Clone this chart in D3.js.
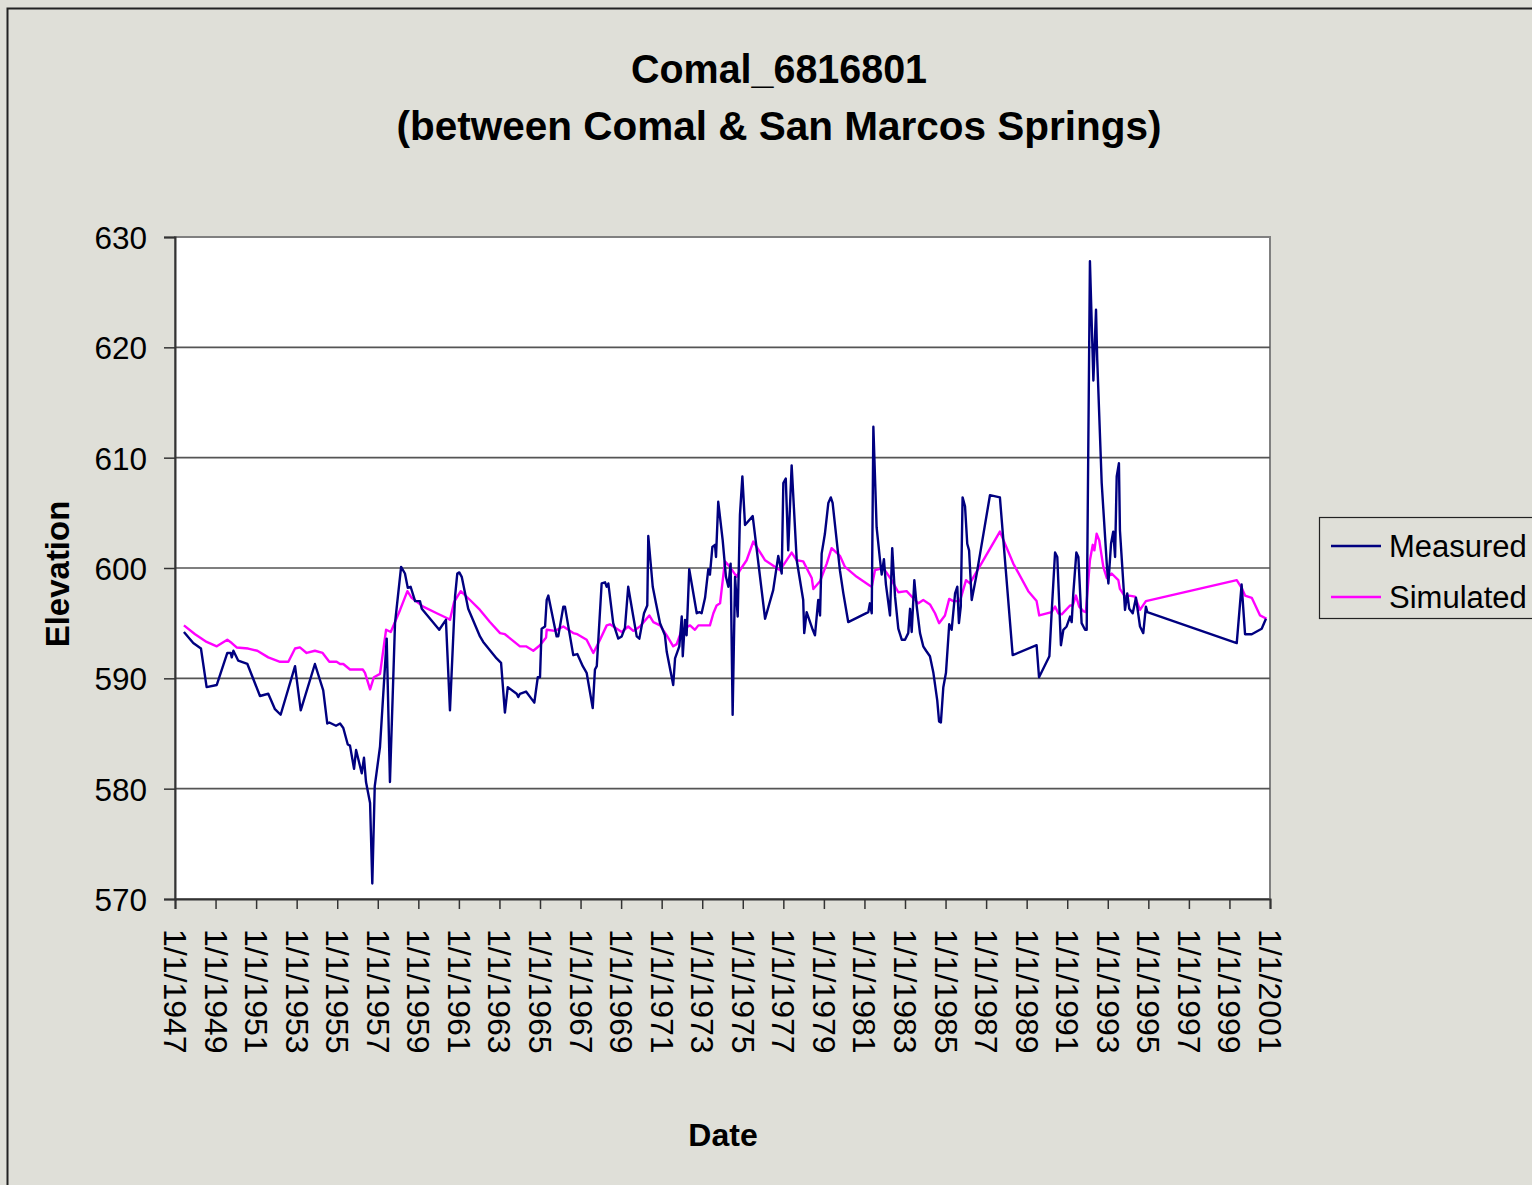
<!DOCTYPE html>
<html>
<head>
<meta charset="utf-8">
<script src="https://cdn.jsdelivr.net/npm/d3@7"></script>
<style>
  html, body { margin: 0; padding: 0; background: #dfdfd8; }
  svg { display: block; }
  text { font-family: "Liberation Sans", Arial, sans-serif; fill: #000; }
</style>
</head>
<body>
<svg id="chart" width="1532" height="1185"></svg>
<script>
// Well Comal_6816801 water-level elevation, [decimal year, elevation]
const measured = [
  [1947.44,594.2],[1947.90,593.2],[1948.28,592.7],[1948.56,589.2],[1949.06,589.4],[1949.58,592.3],[1949.75,592.3],[1949.80,591.9],[1949.88,592.5],[1950.12,591.6],[1950.57,591.3],[1951.19,588.4],[1951.60,588.6],[1951.93,587.2],[1952.21,586.7],[1952.92,591.1],[1953.20,587.1],[1953.90,591.3],[1954.31,588.9],[1954.51,585.9],[1954.61,586.0],[1954.94,585.7],[1955.14,585.9],[1955.30,585.5],[1955.52,584.0],[1955.63,583.9],[1955.83,581.8],[1955.93,583.5],[1956.21,581.4],[1956.32,582.8],[1956.42,580.6],[1956.62,578.7],[1956.73,571.4],[1956.85,580.2],[1957.11,583.8],[1957.44,593.6],[1957.60,580.6],[1957.85,595.0],[1958.15,600.1],[1958.34,599.5],[1958.48,598.2],[1958.62,598.3],[1958.84,597.0],[1959.08,597.0],[1959.17,596.3],[1960.03,594.4],[1960.36,595.3],[1960.56,587.1],[1960.81,597.4],[1960.92,599.5],[1961.02,599.6],[1961.14,599.2],[1961.46,596.3],[1962.04,593.8],[1962.20,593.3],[1962.86,591.8],[1963.08,591.4],[1963.27,586.9],[1963.41,589.2],[1963.85,588.6],[1963.93,588.3],[1964.01,588.6],[1964.31,588.8],[1964.72,587.8],[1964.89,590.1],[1965.00,590.1],[1965.08,594.5],[1965.25,594.7],[1965.33,597.1],[1965.41,597.5],[1965.82,593.8],[1965.90,593.8],[1966.15,596.5],[1966.23,596.5],[1966.64,592.1],[1966.84,592.2],[1967.11,591.1],[1967.30,590.5],[1967.60,587.3],[1967.71,590.8],[1967.80,591.1],[1968.04,598.6],[1968.21,598.7],[1968.29,598.3],[1968.37,598.6],[1968.61,595.0],[1968.86,593.6],[1969.03,593.8],[1969.19,594.6],[1969.35,598.3],[1969.60,595.6],[1969.77,593.8],[1969.90,593.6],[1970.13,595.9],[1970.29,596.6],[1970.34,602.9],[1970.56,598.3],[1970.72,596.8],[1970.92,595.0],[1971.16,593.9],[1971.25,592.4],[1971.57,589.4],[1971.66,591.8],[1971.87,592.9],[1971.99,595.6],[1972.04,592.0],[1972.15,595.3],[1972.23,593.9],[1972.36,599.9],[1972.48,598.6],[1972.73,595.9],[1972.86,596.0],[1972.97,595.9],[1973.14,597.3],[1973.30,599.9],[1973.38,599.4],[1973.50,601.9],[1973.63,602.1],[1973.68,601.0],[1973.79,606.0],[1974.01,602.5],[1974.17,599.2],[1974.29,598.3],[1974.40,600.4],[1974.50,586.7],[1974.62,599.2],[1974.75,595.6],[1974.86,604.8],[1974.98,608.3],[1975.11,603.9],[1975.49,604.7],[1976.10,595.4],[1976.50,598.0],[1976.75,601.1],[1976.92,599.5],[1977.00,607.7],[1977.12,608.1],[1977.24,601.6],[1977.41,609.3],[1977.66,600.7],[1977.98,597.1],[1978.03,594.1],[1978.15,596.0],[1978.45,594.4],[1978.56,593.9],[1978.72,597.1],[1978.81,595.7],[1978.89,601.3],[1979.05,603.1],[1979.22,605.9],[1979.34,606.4],[1979.43,605.9],[1979.79,599.8],[1979.96,597.7],[1980.20,595.1],[1981.19,596.0],[1981.27,596.8],[1981.36,595.9],[1981.44,612.8],[1981.60,603.7],[1981.77,600.7],[1981.85,599.4],[1981.96,600.8],[1982.06,598.5],[1982.26,595.7],[1982.37,601.8],[1982.51,597.4],[1982.67,594.5],[1982.84,593.5],[1983.00,593.5],[1983.16,594.1],[1983.25,596.3],[1983.33,594.2],[1983.46,598.9],[1983.58,596.5],[1983.74,594.1],[1983.90,592.9],[1984.04,592.5],[1984.23,592.0],[1984.40,590.5],[1984.59,588.0],[1984.68,586.1],[1984.77,586.0],[1984.89,589.2],[1985.02,590.5],[1985.13,593.5],[1985.18,594.9],[1985.30,594.4],[1985.47,597.7],[1985.58,598.3],[1985.66,595.0],[1985.75,596.5],[1985.84,606.4],[1985.96,605.6],[1986.07,602.2],[1986.16,601.6],[1986.29,597.1],[1986.53,599.4],[1987.19,606.6],[1987.68,606.4],[1988.31,592.1],[1989.49,593.0],[1989.61,590.1],[1990.12,592.0],[1990.23,595.9],[1990.40,601.4],[1990.51,601.0],[1990.69,593.0],[1990.81,594.4],[1990.97,594.7],[1991.14,595.6],[1991.22,595.1],[1991.30,597.7],[1991.45,601.4],[1991.55,601.0],[1991.71,595.0],[1991.88,594.4],[1991.96,594.4],[1992.12,627.8],[1992.29,617.0],[1992.42,623.4],[1992.48,618.9],[1992.70,607.7],[1992.95,600.4],[1993.03,598.6],[1993.16,602.2],[1993.27,603.3],[1993.36,601.0],[1993.44,608.3],[1993.55,609.5],[1993.60,603.4],[1993.85,596.2],[1993.96,597.7],[1994.06,596.3],[1994.23,595.9],[1994.39,597.3],[1994.59,594.7],[1994.75,594.1],[1994.88,596.5],[1994.95,596.0],[1999.36,593.2],[1999.60,598.5],[1999.77,594.0],[2000.10,594.0],[2000.59,594.5],[2000.80,595.4]
];

// Model output for the same well, [decimal year, elevation]
const simulated = [
  [1947.44,594.8],[1947.99,594.0],[1948.56,593.3],[1949.06,592.9],[1949.58,593.5],[1949.80,593.2],[1950.04,592.8],[1950.61,592.7],[1951.06,592.5],[1951.60,591.9],[1952.18,591.5],[1952.59,591.5],[1952.92,592.7],[1953.16,592.8],[1953.49,592.3],[1953.90,592.5],[1954.28,592.3],[1954.61,591.5],[1954.97,591.5],[1955.14,591.3],[1955.30,591.3],[1955.63,590.8],[1956.26,590.8],[1956.37,590.5],[1956.62,589.0],[1956.81,590.1],[1957.11,590.4],[1957.41,594.4],[1957.64,594.2],[1958.10,596.2],[1958.46,597.9],[1958.67,597.3],[1959.24,596.5],[1959.91,595.9],[1960.48,595.4],[1960.56,595.3],[1960.76,596.9],[1961.09,597.9],[1961.55,597.1],[1962.04,596.2],[1962.53,595.1],[1963.03,594.1],[1963.27,594.0],[1964.01,592.9],[1964.31,592.9],[1964.67,592.5],[1965.00,593.0],[1965.30,593.7],[1965.33,594.4],[1965.74,594.3],[1966.15,594.7],[1966.64,594.1],[1966.84,594.0],[1967.30,593.5],[1967.63,592.3],[1967.96,593.5],[1968.29,594.8],[1968.45,594.9],[1969.03,594.2],[1969.35,594.7],[1969.60,594.3],[1969.93,594.7],[1970.39,595.7],[1970.59,595.1],[1970.92,594.8],[1971.25,593.9],[1971.57,592.9],[1971.74,593.1],[1971.99,594.4],[1972.40,594.8],[1972.64,594.4],[1972.81,594.8],[1973.38,594.8],[1973.55,595.9],[1973.71,596.6],[1973.88,596.8],[1974.12,600.6],[1974.37,600.1],[1974.70,599.2],[1974.86,599.8],[1975.19,600.7],[1975.52,602.4],[1976.10,600.7],[1976.84,599.8],[1977.41,601.4],[1977.66,600.7],[1977.98,600.6],[1978.40,599.1],[1978.48,598.1],[1978.81,598.8],[1979.14,600.4],[1979.38,601.8],[1979.79,601.1],[1980.04,600.1],[1980.62,599.2],[1981.27,598.4],[1981.36,598.3],[1981.52,599.8],[1981.93,600.0],[1982.34,598.9],[1982.67,597.8],[1983.08,597.9],[1983.49,597.1],[1983.66,596.8],[1983.90,597.1],[1984.23,596.7],[1984.48,595.9],[1984.68,595.0],[1984.97,595.7],[1985.18,597.2],[1985.38,597.0],[1985.71,597.0],[1986.01,598.9],[1986.20,598.6],[1987.68,603.3],[1988.34,600.4],[1989.08,597.9],[1989.49,597.0],[1989.62,595.7],[1990.23,596.0],[1990.40,596.5],[1990.56,595.9],[1990.73,595.8],[1991.14,596.6],[1991.27,596.6],[1991.43,597.5],[1991.59,596.5],[1991.79,596.1],[1991.92,596.0],[1992.12,600.7],[1992.26,602.1],[1992.34,601.6],[1992.45,603.1],[1992.58,602.5],[1992.78,600.1],[1992.95,599.1],[1993.19,599.5],[1993.52,598.9],[1993.60,598.1],[1993.85,597.4],[1994.06,597.5],[1994.34,597.4],[1994.59,596.2],[1994.88,597.0],[1999.36,598.9],[1999.60,598.2],[1999.77,597.5],[2000.10,597.3],[2000.51,595.7],[2000.83,595.4]
];

const yTicks = [570, 580, 590, 600, 610, 620, 630];
const xTickYears = d3.range(1947, 2002, 2);
const titleLines = ["Comal_6816801", "(between Comal & San Marcos Springs)"];
const titleWidths = [296, 765];
const seriesNames = ["Measured", "Simulated"];
const seriesColors = ["#000080", "#ff00ff"];

const svg = d3.select("#chart");
const plot = { left: 175, right: 1270, top: 237, bottom: 899 };

// outer chart frame
svg.append("rect").attr("x", 7.5).attr("y", 8.5).attr("width", 1600).attr("height", 1300)
  .attr("fill", "#dfdfd8").attr("stroke", "#222").attr("stroke-width", 2);

const x = d3.scaleLinear().domain([1947, 2001]).range([plot.left, plot.right]);
const y = d3.scaleLinear().domain([570, 630]).range([plot.bottom, plot.top]);

// plot area
svg.append("rect").attr("x", plot.left).attr("y", plot.top)
  .attr("width", plot.right - plot.left).attr("height", plot.bottom - plot.top)
  .attr("fill", "#fff").attr("stroke", "#808080").attr("stroke-width", 2);

// horizontal gridlines
svg.append("g").selectAll("line").data(yTicks.slice(1, -1)).join("line")
  .attr("x1", plot.left).attr("x2", plot.right)
  .attr("y1", d => y(d)).attr("y2", d => y(d))
  .attr("stroke", "#555").attr("stroke-width", 1.6);

// y axis
const yAxis = svg.append("g").attr("transform", `translate(${plot.left},0)`)
  .call(d3.axisLeft(y).tickValues(yTicks).tickSize(11).tickPadding(17).tickFormat(d3.format("d")));
yAxis.select(".domain").attr("stroke", "#333").attr("stroke-width", 2);
yAxis.selectAll(".tick line").attr("stroke", "#333").attr("stroke-width", 1.5);
yAxis.selectAll("text").attr("font-size", 31.5).attr("font-family", "Liberation Sans, Arial, sans-serif")
  .attr("dy", "0.36em").attr("fill", "#000");

// x axis
const xAxis = svg.append("g").attr("transform", `translate(0,${plot.bottom})`)
  .call(d3.axisBottom(x).tickValues(xTickYears).tickSize(10).tickFormat(d => `1/1/${d}`));
xAxis.select(".domain").attr("stroke", "#333").attr("stroke-width", 2);
xAxis.selectAll(".tick line").attr("stroke", "#333").attr("stroke-width", 1.5);
xAxis.selectAll("text")
  .attr("font-size", 32).attr("font-family", "Liberation Sans, Arial, sans-serif").attr("fill", "#000")
  .attr("text-anchor", "start")
  .attr("x", 0).attr("y", 0).attr("dy", "0.36em")
  .attr("transform", "translate(0,30) rotate(90)");

// series lines
const line = d3.line().x(d => x(d[0])).y(d => y(d[1]));
[simulated, measured].forEach((data, i) => {
  const idx = i === 0 ? 1 : 0;
  svg.append("path").datum(data).attr("d", line)
    .attr("fill", "none").attr("stroke", seriesColors[idx])
    .attr("stroke-width", 2.4).attr("stroke-linejoin", "round");
});

// titles
svg.append("g").selectAll("text").data(titleLines).join("text")
  .attr("x", 779).attr("y", (d, i) => 83 + i * 57)
  .attr("text-anchor", "middle").attr("font-weight", "bold").attr("font-size", 40)
  .attr("textLength", (d, i) => titleWidths[i]).attr("lengthAdjust", "spacingAndGlyphs")
  .text(d => d);

svg.append("text").attr("text-anchor", "middle").attr("font-weight", "bold").attr("font-size", 33)
  .attr("transform", "translate(69,574) rotate(-90)").text("Elevation");

svg.append("text").attr("x", 723).attr("y", 1146).attr("text-anchor", "middle")
  .attr("font-weight", "bold").attr("font-size", 32).text("Date");

// legend
const legend = svg.append("g");
legend.append("rect").attr("x", 1319.5).attr("y", 517.5).attr("width", 240).attr("height", 101)
  .attr("fill", "#dfdfd8").attr("stroke", "#222").attr("stroke-width", 1.2);
seriesNames.forEach((name, i) => {
  const ly = 546 + i * 51;
  legend.append("line").attr("x1", 1331).attr("x2", 1381).attr("y1", ly).attr("y2", ly)
    .attr("stroke", seriesColors[i]).attr("stroke-width", 2.4);
  legend.append("text").attr("x", 1389).attr("y", ly).attr("dy", "0.36em")
    .attr("font-size", 31).text(name);
});
</script>
</body>
</html>
